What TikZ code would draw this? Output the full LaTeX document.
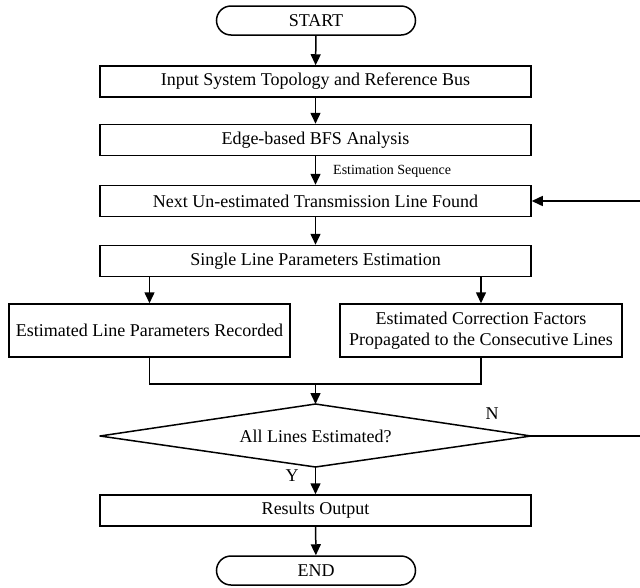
\documentclass[tikz,border=0pt]{standalone}
\usepackage{fontspec}
\setmainfont{Liberation Serif}
\usetikzlibrary{arrows.meta}
\begin{document}
\begin{tikzpicture}[x=1pt,y=-1pt,
  every node/.style={font=\fontsize{18}{21}\selectfont},
  box/.style={draw,line width=1.5pt,inner sep=0pt,minimum width=431pt,minimum height=31pt},
  term/.style={draw,line width=1.5pt,rounded corners=14.5pt,minimum width=199pt,minimum height=29pt,inner sep=0pt},
  conn/.style={line width=1.5pt},
  arr/.style={conn,-{Triangle[length=11pt,width=10pt]}},
  lab/.style={font=\fontsize{14}{16}\selectfont,inner sep=0pt}
  ]
\useasboundingbox (0,0) rectangle (640,587);
\node[term] (start) at (316,20.5) {START};
\node[box] (b1) at (315.5,81.5) {Input System Topology and Reference Bus};
\node[box] (b2) at (315.5,140) {Edge-based BFS Analysis};
\node[box] (b3) at (315.5,201) {Next Un-estimated Transmission Line Found};
\node[box] (b4) at (315.5,261) {Single Line Parameters Estimation};
\node[box,minimum width=281pt,minimum height=53pt] (l) at (149.5,330.5) {Estimated Line Parameters Recorded};
\node[box,minimum width=282pt,minimum height=53pt,align=center] (r) at (481,330.5) {Estimated Correction Factors\\Propagated to the Consecutive Lines};
\coordinate (dtop) at (315.5,404);
\coordinate (dbot) at (315.5,467);
\coordinate (dl) at (100,436);
\coordinate (dr) at (531,436);
\draw[conn,line join=round] (dtop) -- (dr) -- (dbot) -- (dl) -- cycle;
\node[anchor=center] (d) at (315.5,436) {All Lines Estimated?};
\node[box] (b5) at (315.5,510.5) {Results Output};
\node[term] (end) at (316,570.5) {END};
\node[lab,anchor=west] (seq) at (333,171) {Estimation Sequence};
\node[anchor=center] (nlab) at (492,414) {N};
\node[anchor=center] (ylab) at (292,476) {Y};
\coordinate (m) at (315.5,384);
\coordinate (c1) at (641,436);
\coordinate (c2) at (641,201);
\draw[arr] (start) -- (b1);
\draw[arr] (b1) -- (b2);
\draw[arr] (b2) -- (b3);
\draw[arr] (b3) -- (b4);
\draw[arr] (b4.south -| l) -- (l);
\draw[arr] (b4.south -| r) -- (r);
\draw[conn] (l) |- (m) -| (r);
\draw[arr] (m) -- (dtop);
\draw[arr] (dbot) -- (b5);
\draw[arr] (b5) -- (end);
\draw[arr] (dr) -- (c1) -- (c2) -- (b3.east);
\end{tikzpicture}
\end{document}
